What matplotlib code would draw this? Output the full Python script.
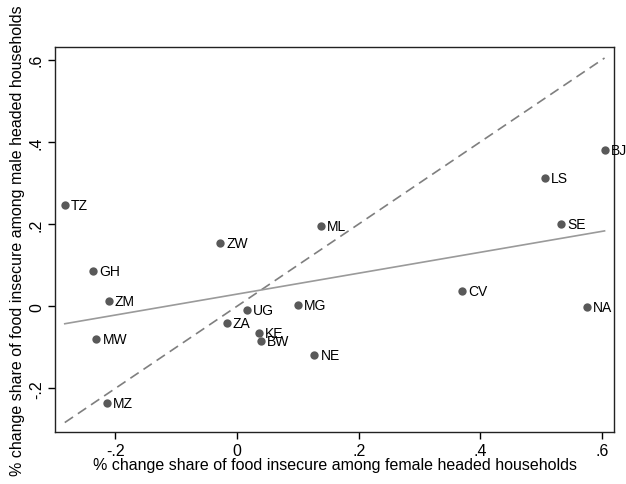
import matplotlib
matplotlib.use("Agg")
import matplotlib.pyplot as plt
import numpy as np

plt.rcParams['font.family'] = ['Liberation Sans', 'DejaVu Sans']

# country codes and % changes (female headed x, male headed y)
countries = ['TZ', 'ZW', 'ML', 'BJ', 'LS', 'SE', 'GH', 'ZM', 'MW', 'MZ',
             'UG', 'ZA', 'KE', 'BW', 'MG', 'NE', 'CV', 'NA']
female_chg = [-0.283, -0.028, 0.138, 0.604, 0.506, 0.532, -0.236, -0.211, -0.231, -0.214,
              0.016, -0.017, 0.036, 0.039, 0.100, 0.127, 0.369, 0.575]
male_chg = [0.247, 0.154, 0.195, 0.381, 0.313, 0.201, 0.086, 0.013, -0.079, -0.235,
            -0.010, -0.041, -0.066, -0.084, 0.003, -0.119, 0.038, -0.002]

xticks = [-0.2, 0, 0.2, 0.4, 0.6]
xticklabels = ['-.2', '0', '.2', '.4', '.6']
yticks = [-0.2, 0, 0.2, 0.4, 0.6]
yticklabels = ['-.2', '0', '.2', '.4', '.6']

x = np.array(female_chg)
y = np.array(male_chg)

fig = plt.figure(figsize=(6.26, 4.85), dpi=100)
ax = fig.add_axes([0.0879, 0.1072, 0.893, 0.794])

# 45 degree line over data range
xr = np.array([x.min(), x.max()])
ax.plot(xr, xr, color='#7f7f7f', lw=1.2, ls=(0, (6, 3.5)), zorder=1)

# linear fit
b, a = np.polyfit(x, y, 1)
ax.plot(xr, a + b * xr, color='#9a9a9a', lw=1.2, zorder=1)

ax.scatter(x, y, s=36, color='#595959', zorder=3, linewidths=0)
for c, xi, yi in zip(countries, x, y):
    ax.annotate(c, (xi, yi), xytext=(4.5, 0), textcoords='offset points',
                ha='left', va='center', fontsize=10, color='black')

ax.set_xlim(-0.299, 0.6196)
ax.set_ylim(-0.306, 0.631)
ax.set_xticks(xticks)
ax.set_xticklabels(xticklabels)
ax.set_yticks(yticks)
ax.set_yticklabels(yticklabels, rotation=90, va='center')
ax.tick_params(direction='out', length=5, width=1, labelsize=11.5, pad=3)
for sp in ax.spines.values():
    sp.set_linewidth(1)
    sp.set_color('#222222')

ax.set_xlabel('% change share of food insecure among female headed households',
              fontsize=11.5, labelpad=-1)
ax.set_ylabel('% change share of food insecure among male headed households',
              fontsize=11.5, labelpad=3)

fig.savefig('out.png', dpi=100)
